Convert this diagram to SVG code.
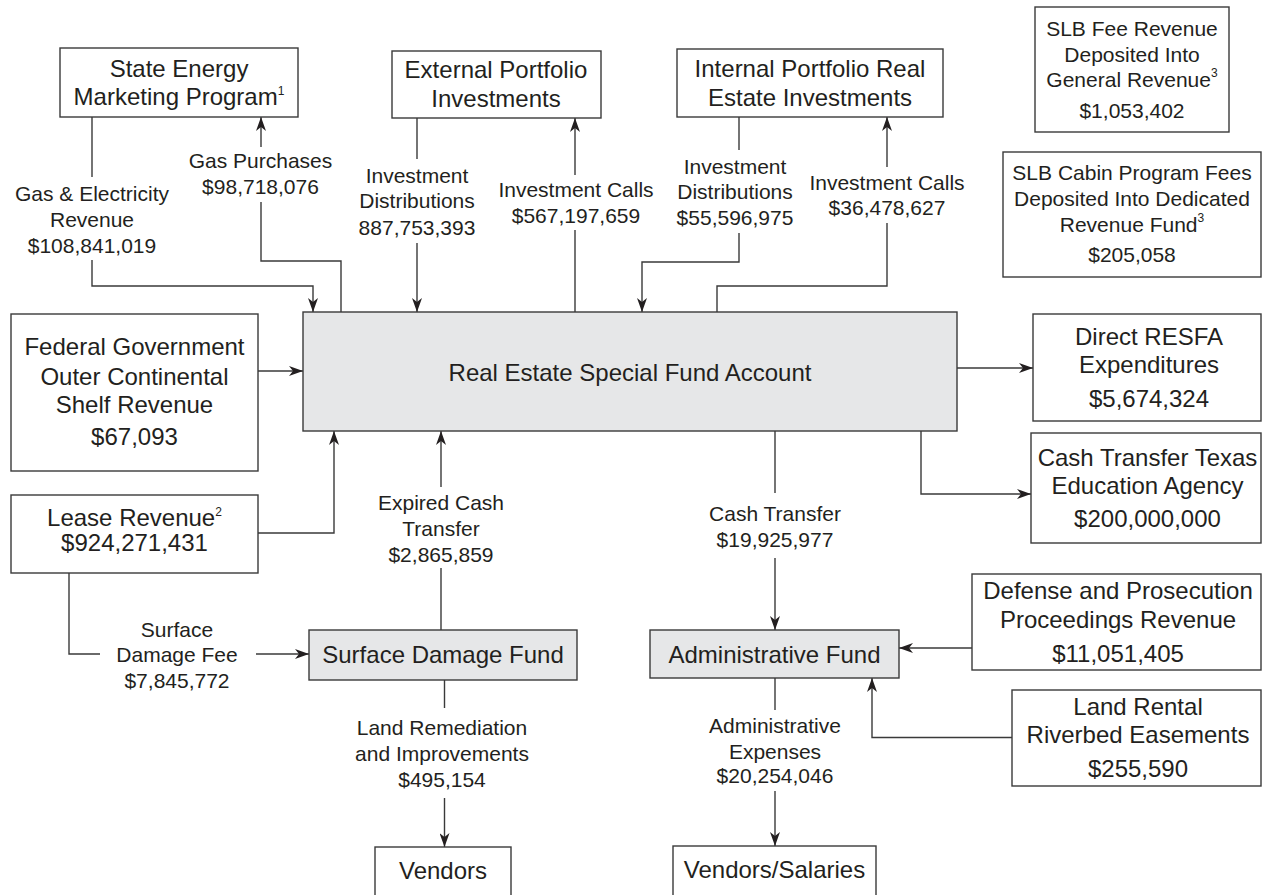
<svg xmlns="http://www.w3.org/2000/svg" width="1262" height="895" viewBox="0 0 1262 895">
<defs>
<style>
.box{fill:#fff;stroke:#3a3a3a;stroke-width:1.4}
.fund{fill:#e6e7e8;stroke:#3a3a3a;stroke-width:1.4}
.t{font-family:"Liberation Sans",Arial,sans-serif;font-size:24px;fill:#231f20;text-anchor:middle}
.s{font-family:"Liberation Sans",Arial,sans-serif;font-size:21px;fill:#231f20;text-anchor:middle}
.sup{font-size:12px}
.c{fill:none;stroke:#3a3a3a;stroke-width:1.4}
</style>
<marker id="arr" viewBox="0 0 14 10" refX="14" refY="5" markerWidth="14" markerHeight="10" markerUnits="userSpaceOnUse" orient="auto">
<path d="M0,0 L14,5 L0,10 L4,5 Z" fill="#231f20"/>
</marker>
</defs>
<rect width="1262" height="895" fill="#fff"/>

<g id="connectors">
<path class="c" d="M92,117 V177"/>
<path class="c" d="M92,260 V286 H313 V312" marker-end="url(#arr)"/>
<path class="c" d="M341,312 V261 H261 V202"/>
<path class="c" d="M261,147 V117" marker-end="url(#arr)"/>
<path class="c" d="M417,118 V159"/>
<path class="c" d="M417,243 V312" marker-end="url(#arr)"/>
<path class="c" d="M575,312 V230"/>
<path class="c" d="M575,175 V118" marker-end="url(#arr)"/>
<path class="c" d="M739,117 V150"/>
<path class="c" d="M739,233 V262 H642 V312" marker-end="url(#arr)"/>
<path class="c" d="M717,312 V286 H887 V223"/>
<path class="c" d="M887,167 V117" marker-end="url(#arr)"/>
<path class="c" d="M258,371 H303" marker-end="url(#arr)"/>
<path class="c" d="M258,533 H334 V431" marker-end="url(#arr)"/>
<path class="c" d="M69,573 V654 H100"/>
<path class="c" d="M256,654 H309" marker-end="url(#arr)"/>
<path class="c" d="M441,630 V568"/>
<path class="c" d="M441,487 V431" marker-end="url(#arr)"/>
<path class="c" d="M957,368 H1033" marker-end="url(#arr)"/>
<path class="c" d="M921,431 V494 H1031" marker-end="url(#arr)"/>
<path class="c" d="M775,431 V493"/>
<path class="c" d="M775,558 V630" marker-end="url(#arr)"/>
<path class="c" d="M972,648 H899" marker-end="url(#arr)"/>
<path class="c" d="M1012,737.5 H872 V678" marker-end="url(#arr)"/>
<path class="c" d="M444.5,680 V708"/>
<path class="c" d="M444.5,798 V847" marker-end="url(#arr)"/>
<path class="c" d="M775,678 V710"/>
<path class="c" d="M775,791 V846" marker-end="url(#arr)"/>

<text class="s" x="92" y="200.7">Gas &amp; Electricity</text>
<text class="s" x="92" y="226.7">Revenue</text>
<text class="s" x="92" y="252.7">$108,841,019</text>
<text class="s" x="260.5" y="168.3">Gas Purchases</text>
<text class="s" x="260.5" y="194.3">$98,718,076</text>
<text class="s" x="417" y="182.7">Investment</text>
<text class="s" x="417" y="208.3">Distributions</text>
<text class="s" x="417" y="235">887,753,393</text>
<text class="s" x="576" y="196.7">Investment Calls</text>
<text class="s" x="576" y="222.7">$567,197,659</text>
<text class="s" x="735" y="174">Investment</text>
<text class="s" x="735" y="199.3">Distributions</text>
<text class="s" x="735" y="225">$55,596,975</text>
<text class="s" x="887" y="190">Investment Calls</text>
<text class="s" x="887" y="215">$36,478,627</text>
<text class="s" x="441" y="510">Expired Cash</text>
<text class="s" x="441" y="536">Transfer</text>
<text class="s" x="441" y="561.7">$2,865,859</text>
<text class="s" x="775" y="520.7">Cash Transfer</text>
<text class="s" x="775" y="546.7">$19,925,977</text>
<text class="s" x="177" y="636.7">Surface</text>
<text class="s" x="177" y="661.7">Damage Fee</text>
<text class="s" x="177" y="688.3">$7,845,772</text>
<text class="s" x="442" y="735">Land Remediation</text>
<text class="s" x="442" y="760.7">and Improvements</text>
<text class="s" x="442" y="786.7">$495,154</text>
<text class="s" x="775" y="733.3">Administrative</text>
<text class="s" x="775" y="759.3">Expenses</text>
<text class="s" x="775" y="783.3">$20,254,046</text>
</g>

<g id="state-energy">
<rect class="box" x="60" y="48" width="238" height="69"/>
<text class="t" x="179" y="77">State Energy</text>
<text class="t" x="179" y="105">Marketing Program<tspan class="sup" dy="-10">1</tspan></text>
</g>
<g id="external-portfolio">
<rect class="box" x="392" y="51" width="209" height="67"/>
<text class="t" x="496" y="78.3">External Portfolio</text>
<text class="t" x="496" y="106.7">Investments</text>
</g>
<g id="internal-portfolio">
<rect class="box" x="677" y="49" width="266" height="68"/>
<text class="t" x="810" y="77.3">Internal Portfolio Real</text>
<text class="t" x="810" y="106">Estate Investments</text>
</g>
<g id="slb-fee">
<rect class="box" x="1035" y="7" width="194" height="125"/>
<text class="s" x="1132" y="36">SLB Fee Revenue</text>
<text class="s" x="1132" y="61.7">Deposited Into</text>
<text class="s" x="1132" y="87.3">General Revenue<tspan class="sup" dy="-10">3</tspan></text>
<text class="s" x="1132" y="118.3">$1,053,402</text>
</g>
<g id="slb-cabin">
<rect class="box" x="1003" y="152" width="258" height="125"/>
<text class="s" x="1132" y="180">SLB Cabin Program Fees</text>
<text class="s" x="1132" y="205.7">Deposited Into Dedicated</text>
<text class="s" x="1132" y="231.7">Revenue Fund<tspan class="sup" dy="-10">3</tspan></text>
<text class="s" x="1132" y="261.7">$205,058</text>
</g>
<g id="resfa">
<rect class="fund" x="303" y="312" width="654" height="119"/>
<text class="t" x="630" y="380.7">Real Estate Special Fund Account</text>
</g>
<g id="federal">
<rect class="box" x="11" y="314" width="247" height="157"/>
<text class="t" x="134.5" y="355">Federal Government</text>
<text class="t" x="134.5" y="385">Outer Continental</text>
<text class="t" x="134.5" y="413.3">Shelf Revenue</text>
<text class="t" x="134.5" y="445">$67,093</text>
</g>
<g id="lease">
<rect class="box" x="11" y="495" width="247" height="78"/>
<text class="t" x="134.5" y="525.7">Lease Revenue<tspan class="sup" dy="-10">2</tspan></text>
<text class="t" x="134.5" y="550.7">$924,271,431</text>
</g>
<g id="direct-resfa">
<rect class="box" x="1033" y="314" width="228" height="107"/>
<text class="t" x="1149" y="345">Direct RESFA</text>
<text class="t" x="1149" y="373.3">Expenditures</text>
<text class="t" x="1149" y="407.3">$5,674,324</text>
</g>
<g id="tea">
<rect class="box" x="1031" y="433" width="230" height="110"/>
<text class="t" x="1147.5" y="465.7">Cash Transfer Texas</text>
<text class="t" x="1147.5" y="494.3">Education Agency</text>
<text class="t" x="1147.5" y="526.7">$200,000,000</text>
</g>
<g id="defense">
<rect class="box" x="972" y="574" width="289" height="96"/>
<text class="t" x="1118" y="599.3">Defense and Prosecution</text>
<text class="t" x="1118" y="628.3">Proceedings Revenue</text>
<text class="t" x="1118" y="662.3">$11,051,405</text>
</g>
<g id="land-rental">
<rect class="box" x="1012" y="690" width="249" height="96"/>
<text class="t" x="1138" y="715">Land Rental</text>
<text class="t" x="1138" y="743.3">Riverbed Easements</text>
<text class="t" x="1138" y="777.3">$255,590</text>
</g>
<g id="surface-damage-fund">
<rect class="fund" x="309" y="630" width="268" height="50"/>
<text class="t" x="443" y="663.3">Surface Damage Fund</text>
</g>
<g id="administrative-fund">
<rect class="fund" x="650" y="630" width="249" height="48"/>
<text class="t" x="774.5" y="662.7">Administrative Fund</text>
</g>
<g id="vendors">
<rect class="box" x="375" y="847" width="136" height="60"/>
<text class="t" x="443" y="879.3">Vendors</text>
</g>
<g id="vendors-salaries">
<rect class="box" x="673" y="846" width="203" height="60"/>
<text class="t" x="774.5" y="878.3">Vendors/Salaries</text>
</g>
</svg>
